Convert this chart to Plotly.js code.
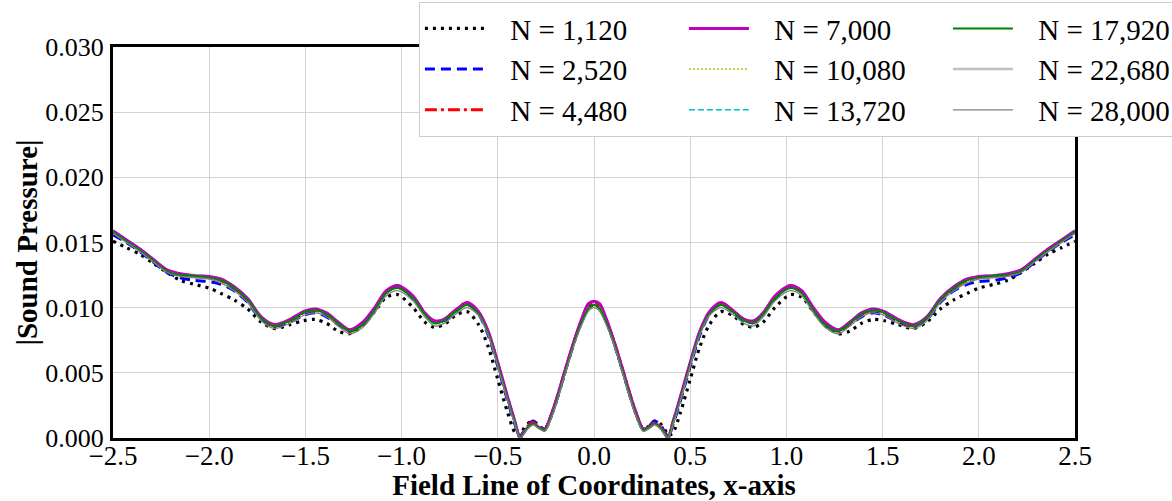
<!DOCTYPE html>
<html>
<head>
<meta charset="utf-8">
<script src="https://cdn.plot.ly/plotly-3.0.1.min.js"></script>
<style>
  html, body { margin: 0; padding: 0; background: #fff; }
  #chart { width: 1172px; height: 501px; }
</style>
</head>
<body>
<div id="chart"></div>
<script>
// x positions (x >= 0); the field is symmetric about x = 0, so each half is mirrored
const X_HALF = [0, 0.03, 0.06, 0.1, 0.15, 0.19, 0.22, 0.255, 0.285, 0.315, 0.345, 0.37, 0.385, 0.41, 0.45, 0.5, 0.55, 0.6, 0.66, 0.72, 0.78, 0.83, 0.88, 0.94, 1.02, 1.08, 1.14, 1.2, 1.27, 1.33, 1.39, 1.45, 1.51, 1.58, 1.66, 1.73, 1.8, 1.87, 1.94, 2.0, 2.08, 2.15, 2.22, 2.29, 2.36, 2.43, 2.5];

const N_1120  = [0.0102, 0.0100, 0.0091, 0.0075, 0.0051, 0.0031, 0.0018, 0.0007, 0.0009, 0.0013, 0.0011, 0.0006, 0.0002, 0.0004, 0.0020, 0.0045, 0.0070, 0.0087, 0.0097, 0.0094, 0.0087, 0.0085, 0.0089, 0.0100, 0.0110, 0.0108, 0.0097, 0.0087, 0.0080, 0.0082, 0.0088, 0.0091, 0.0090, 0.0087, 0.0084, 0.0089, 0.0099, 0.0106, 0.0111, 0.0115, 0.0118, 0.0121, 0.0127, 0.0134, 0.0141, 0.0146, 0.0151];
const N_2520  = [0.0104, 0.0102, 0.0092, 0.0075, 0.0051, 0.0031, 0.0018, 0.0007, 0.0009, 0.0013, 0.0010, 0.0004, 0.0001, 0.0010, 0.0029, 0.0055, 0.0079, 0.0095, 0.0103, 0.0097, 0.0090, 0.0089, 0.0095, 0.0107, 0.0116, 0.0112, 0.0099, 0.0087, 0.0082, 0.0087, 0.0093, 0.0096, 0.0094, 0.0089, 0.0086, 0.0091, 0.0104, 0.0113, 0.0118, 0.0120, 0.0121, 0.0123, 0.0127, 0.0135, 0.0143, 0.0150, 0.0156];
const N_4480  = [0.0104, 0.0102, 0.0092, 0.0076, 0.0052, 0.0032, 0.0018, 0.0007, 0.0008, 0.0012, 0.0009, 0.0003, 0.0000, 0.0012, 0.0031, 0.0057, 0.0081, 0.0096, 0.0104, 0.0098, 0.0091, 0.0089, 0.0096, 0.0108, 0.0116, 0.0112, 0.0099, 0.0088, 0.0082, 0.0088, 0.0095, 0.0098, 0.0096, 0.0090, 0.0086, 0.0092, 0.0106, 0.0115, 0.0121, 0.0123, 0.0124, 0.0125, 0.0128, 0.0136, 0.0144, 0.0151, 0.0158];
const N_7000  = [0.0105, 0.0103, 0.0093, 0.0076, 0.0052, 0.0032, 0.0019, 0.0007, 0.0008, 0.0011, 0.0008, 0.0003, 0.0000, 0.0012, 0.0032, 0.0058, 0.0082, 0.0097, 0.0104, 0.0098, 0.0091, 0.0090, 0.0096, 0.0109, 0.0117, 0.0113, 0.0100, 0.0089, 0.0083, 0.0089, 0.0096, 0.0099, 0.0097, 0.0091, 0.0087, 0.0093, 0.0107, 0.0116, 0.0122, 0.0124, 0.01245, 0.0126, 0.0129, 0.0137, 0.0145, 0.0152, 0.0159];
const N_10080 = [0.0102, 0.0100, 0.0090, 0.0074, 0.0050, 0.0030, 0.0017, 0.0006, 0.0008, 0.0011, 0.0008, 0.0003, 0.0000, 0.0011, 0.0030, 0.0056, 0.0080, 0.0095, 0.0102, 0.0097, 0.0090, 0.0088, 0.0095, 0.0107, 0.0115, 0.0111, 0.0098, 0.0087, 0.0082, 0.0088, 0.0095, 0.0098, 0.0096, 0.0090, 0.0086, 0.0092, 0.0106, 0.0115, 0.0121, 0.0123, 0.0124, 0.0125, 0.0128, 0.0136, 0.0144, 0.0151, 0.0158];
const N_13720 = [0.0102, 0.0099, 0.0090, 0.0074, 0.0050, 0.0030, 0.0017, 0.0006, 0.0008, 0.0011, 0.0008, 0.0003, 0.0000, 0.0011, 0.0030, 0.0056, 0.0080, 0.0095, 0.0102, 0.0097, 0.0090, 0.0088, 0.0095, 0.0107, 0.0115, 0.0111, 0.0098, 0.0087, 0.0082, 0.0088, 0.0095, 0.0098, 0.0096, 0.0090, 0.0086, 0.0092, 0.0106, 0.0115, 0.0121, 0.0123, 0.01245, 0.0125, 0.0128, 0.0136, 0.0144, 0.0151, 0.0158];
const N_17920 = [0.0102, 0.0099, 0.0090, 0.0074, 0.0050, 0.0030, 0.0017, 0.0006, 0.0008, 0.0011, 0.0008, 0.0003, 0.0000, 0.0011, 0.0030, 0.0056, 0.0080, 0.0095, 0.0102, 0.0097, 0.0090, 0.0088, 0.0095, 0.0107, 0.0115, 0.0111, 0.0098, 0.0087, 0.0082, 0.0088, 0.0095, 0.0098, 0.0096, 0.0090, 0.0086, 0.0092, 0.0106, 0.0115, 0.0121, 0.0123, 0.01245, 0.0125, 0.0128, 0.0136, 0.0144, 0.0151, 0.0158];
const N_22680 = [0.0103, 0.0100, 0.0091, 0.0075, 0.0051, 0.0031, 0.0017, 0.0006, 0.0008, 0.0011, 0.0008, 0.0003, 0.0000, 0.0012, 0.0031, 0.0057, 0.0081, 0.0096, 0.0103, 0.0098, 0.0091, 0.0089, 0.0096, 0.0108, 0.0116, 0.0112, 0.0099, 0.0088, 0.0083, 0.0089, 0.0096, 0.0099, 0.0097, 0.0091, 0.0087, 0.0093, 0.0107, 0.0116, 0.0122, 0.0124, 0.0125, 0.0126, 0.0129, 0.0137, 0.0145, 0.0152, 0.0159];
const N_28000 = [0.0100, 0.0097, 0.0088, 0.0073, 0.0049, 0.0029, 0.0016, 0.0005, 0.0007, 0.0010, 0.0007, 0.0002, 0.0000, 0.0010, 0.0029, 0.0055, 0.0079, 0.0094, 0.0100, 0.0095, 0.0088, 0.0086, 0.0093, 0.0105, 0.0113, 0.0109, 0.0096, 0.0085, 0.0080, 0.0086, 0.0093, 0.0096, 0.0094, 0.0088, 0.0084, 0.0090, 0.0104, 0.0113, 0.0119, 0.0122, 0.0123, 0.0124, 0.0127, 0.0135, 0.0143, 0.0150, 0.0157];

const LABELS = ['N = 1,120', 'N = 2,520', 'N = 4,480', 'N = 7,000', 'N = 10,080', 'N = 13,720', 'N = 17,920', 'N = 22,680', 'N = 28,000'];
const SERIES = [N_1120, N_2520, N_4480, N_7000, N_10080, N_13720, N_17920, N_22680, N_28000];
// legend is filled column by column (3 rows)
const LEGEND_RANK = [1, 4, 7, 2, 5, 8, 3, 6, 9];

const X_TICKS = [-2.5, -2.0, -1.5, -1.0, -0.5, 0.0, 0.5, 1.0, 1.5, 2.0, 2.5];
const Y_TICKS = [0.000, 0.005, 0.010, 0.015, 0.020, 0.025, 0.030];

const STYLES = [
  {color: '#000000', width: 3.2, dash: '3px,5px'},
  {color: '#0000ff', width: 3, dash: '10px,6px'},
  {color: '#ff0000', width: 3, dash: '12px,4px,3px,4px'},
  {color: '#bf00bf', width: 3, dash: 'solid'},
  {color: '#bfbf00', width: 1.5, dash: '2px,2px'},
  {color: '#00bfbf', width: 1.5, dash: '6px,3px'},
  {color: '#008000', width: 2, dash: 'solid'},
  {color: '#c0c0c0', width: 2.5, dash: 'solid'},
  {color: '#808080', width: 1.3, dash: 'solid'}
];

function mirrorX(h) { return h.slice(1).map(v => -v).reverse().concat(h); }
function mirrorY(h) { return h.slice(1).reverse().concat(h); }

const xFull = mirrorX(X_HALF);
const drawOrder = [7, 0, 1, 2, 3, 4, 5, 6, 8];
const GAP = '\u2002\u2009';
const traces = drawOrder.map(i => ({
  type: 'scatter', mode: 'lines',
  x: xFull, y: mirrorY(SERIES[i]),
  name: GAP + LABELS[i], legendrank: LEGEND_RANK[i],
  line: {color: STYLES[i].color, width: STYLES[i].width, dash: STYLES[i].dash, shape: 'spline', smoothing: 0.8},
  hoverinfo: 'skip'
}));

const FONT = 'Liberation Serif, Times New Roman, serif';
const layout = {
  width: 1172, height: 501,
  margin: {l: 113, r: 97, t: 47, b: 63, autoexpand: false},
  paper_bgcolor: '#ffffff', plot_bgcolor: '#ffffff',
  font: {family: FONT, color: '#000', size: 27},
  showlegend: true,
  legend: {
    orientation: 'h', x: 0.318, y: 1.115, xanchor: 'left', yanchor: 'top',
    bgcolor: '#ffffff', bordercolor: '#cccccc', borderwidth: 1,
    font: {family: FONT, size: 29, color: '#000'},
    entrywidth: 189, entrywidthmode: 'pixels', itemwidth: 60,
    traceorder: 'normal'
  },
  xaxis: {
    range: [-2.5, 2.5], tickvals: X_TICKS, tickformat: '.1f',
    showgrid: true, gridcolor: '#d3d3d3', gridwidth: 1, zeroline: false,
    showline: true, linecolor: '#000', linewidth: 3, mirror: true,
    ticks: '', ticklabelstandoff: -8,
    tickfont: {family: FONT, size: 27},
    title: {text: '<b>Field Line of Coordinates, x-axis</b>', font: {family: FONT, size: 29}, standoff: 2}
  },
  yaxis: {
    range: [0, 0.030], tickvals: Y_TICKS, tickformat: '.3f',
    showgrid: true, gridcolor: '#d3d3d3', gridwidth: 1, zeroline: false,
    showline: true, linecolor: '#000', linewidth: 3, mirror: true,
    ticks: '', ticklabelstandoff: 1,
    tickfont: {family: FONT, size: 26},
    title: {text: '<b>|Sound Pressure|</b>', font: {family: FONT, size: 29}, standoff: 0}
  }
};

Plotly.newPlot('chart', traces, layout, {staticPlot: true, displayModeBar: false});
</script>
</body>
</html>
